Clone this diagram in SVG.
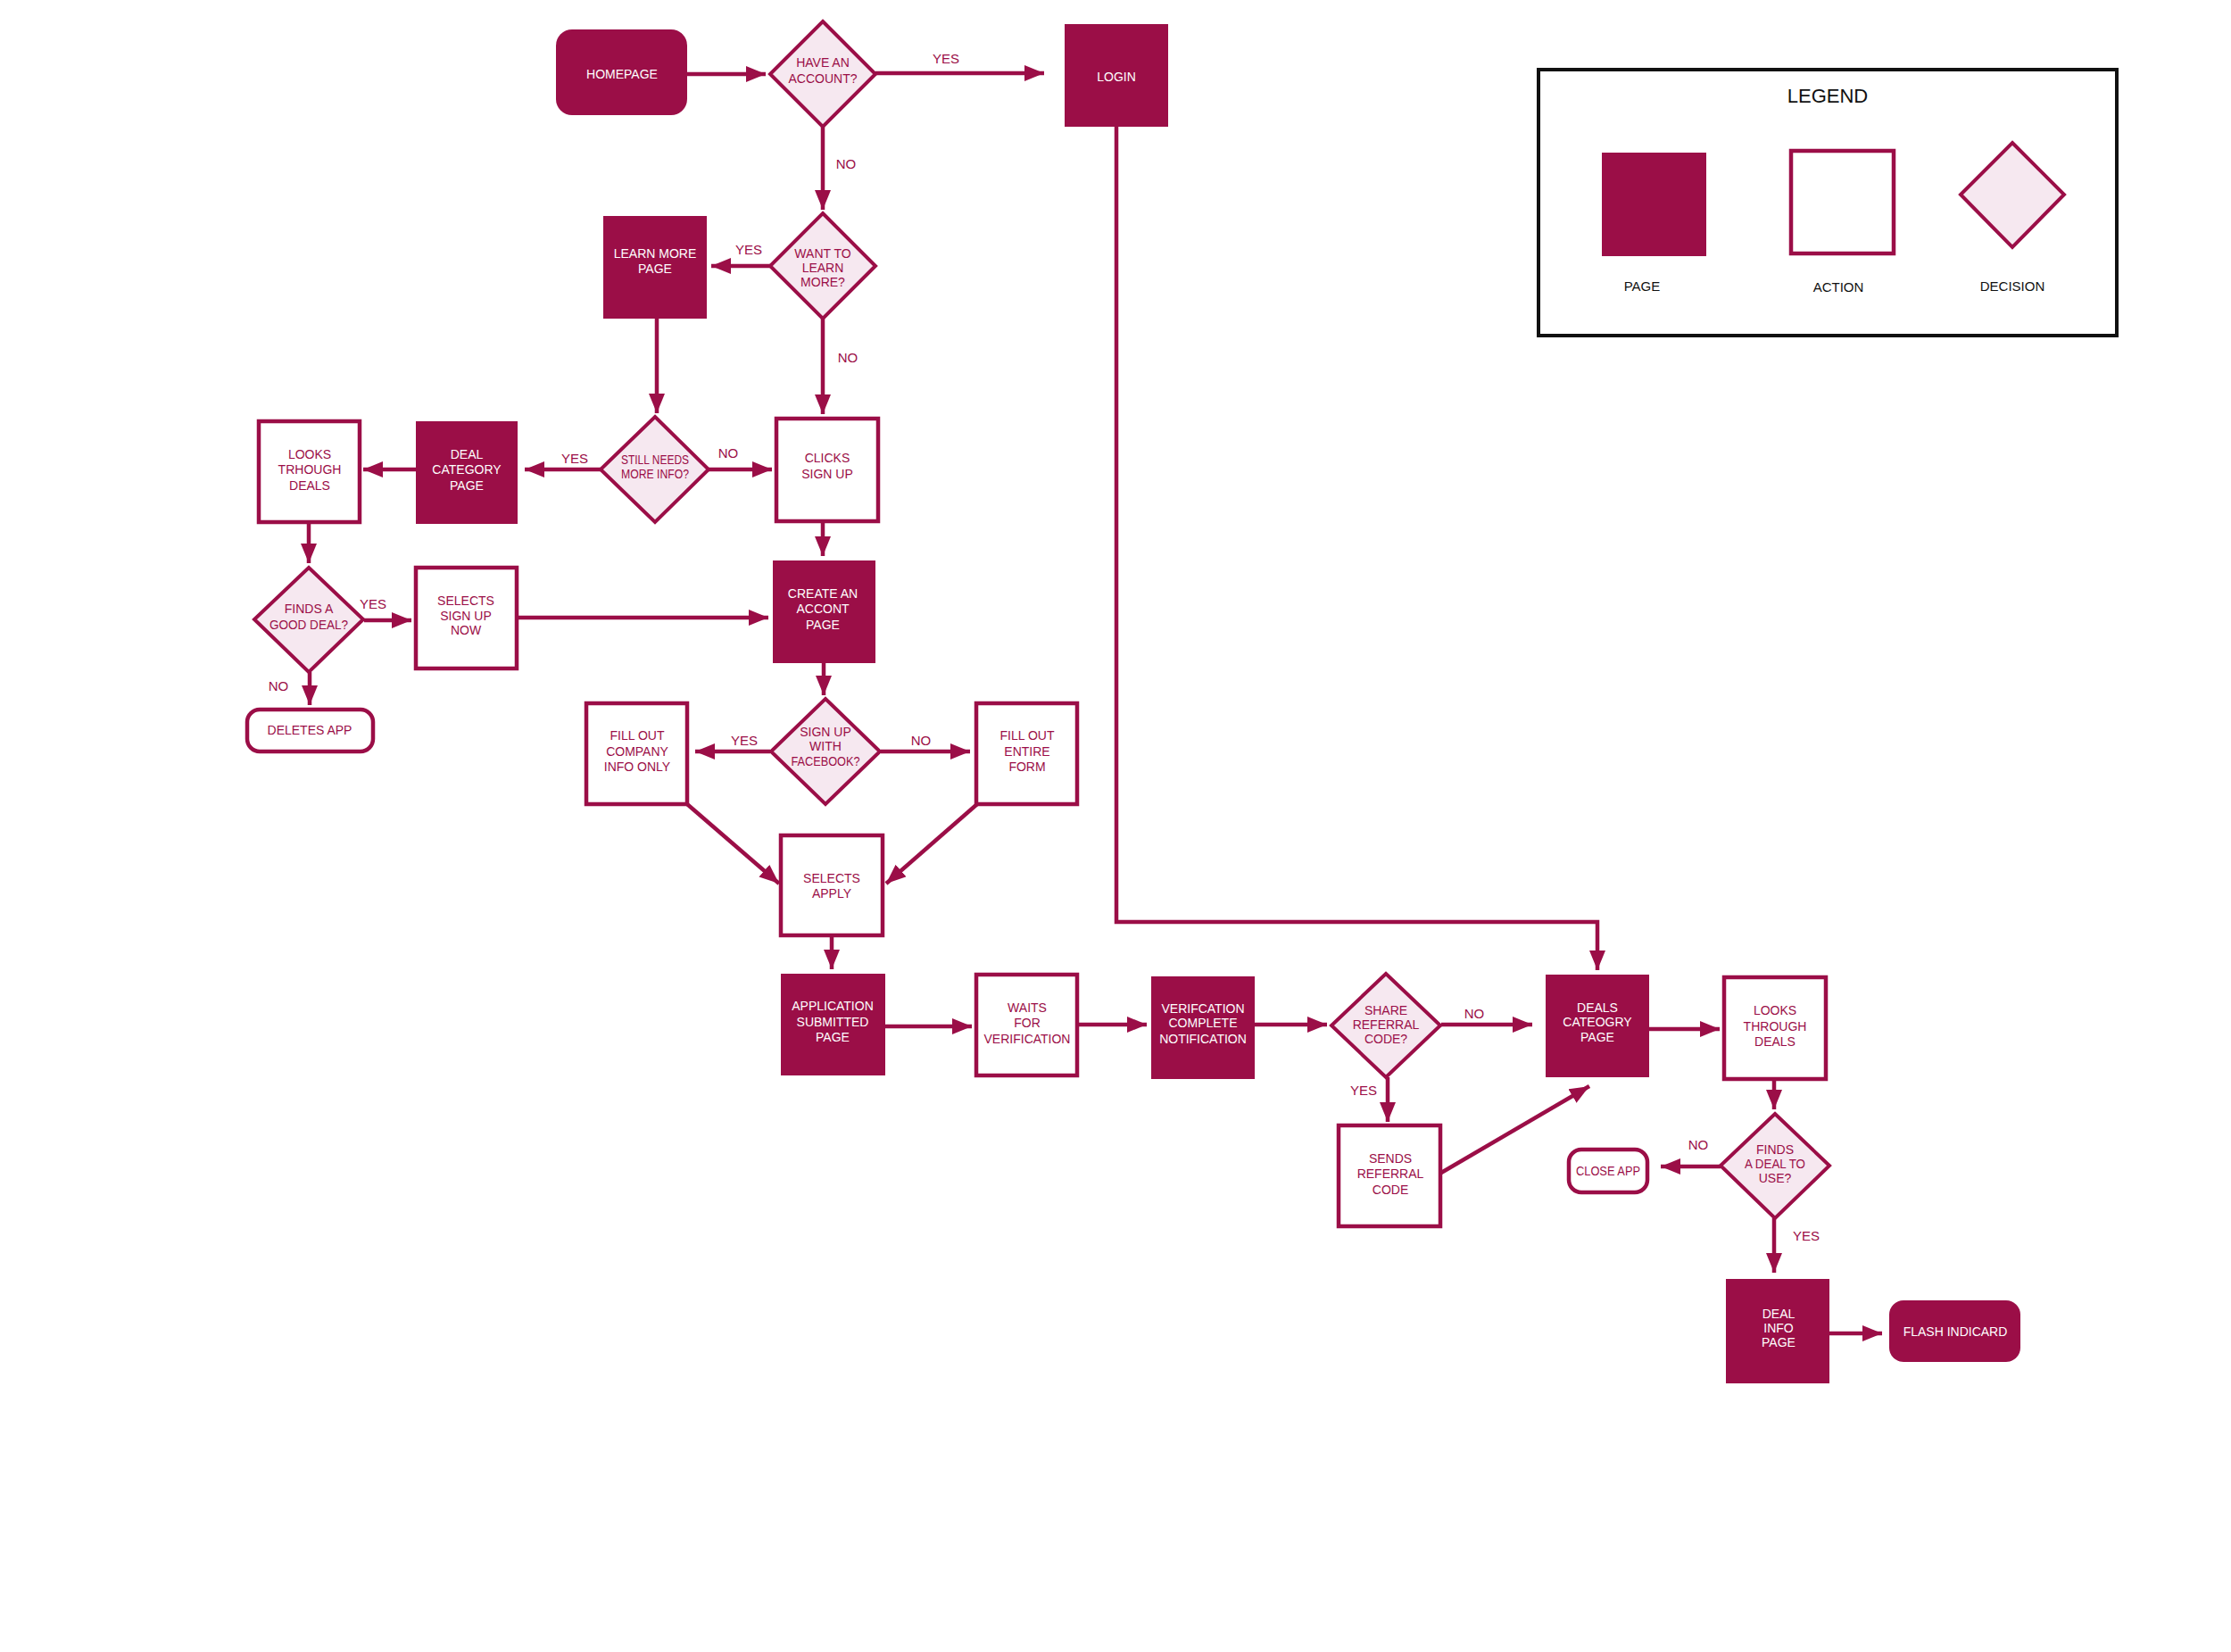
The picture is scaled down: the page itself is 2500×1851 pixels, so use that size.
<svg xmlns="http://www.w3.org/2000/svg" width="2500" height="1851" viewBox="0 0 2500 1851">
<defs>
<style>
.page{fill:#9B0E47}
.action{fill:#fff;stroke:#9B0E47;stroke-width:4.5}
.decision{fill:#F6E8F0;stroke:#9B0E47;stroke-width:4}
.conn{fill:none;stroke:#9B0E47;stroke-width:4.5;marker-end:url(#arrow)}
.line{fill:none;stroke:#9B0E47;stroke-width:4.5}
text{font-family:"Liberation Sans",Arial,sans-serif;font-size:14px;text-anchor:middle}
.wt{fill:#fff}
.mt{fill:#9B0E47}
.lbl{fill:#9B0E47;font-size:15px}
.bt{fill:#111;font-size:15px}
</style>
<marker id="arrow" markerUnits="userSpaceOnUse" markerWidth="24" markerHeight="20" refX="22" refY="9" orient="auto">
<path d="M0,0 L22,9 L0,18 z" fill="#9B0E47"/>
</marker>
</defs>
<rect width="2500" height="1851" fill="#fff"/>

<g id="connectors">
<line class="conn" x1="770" y1="83" x2="858" y2="83"/>
<line class="conn" x1="981" y1="82" x2="1170" y2="82"/>
<line class="conn" x1="922" y1="142" x2="922" y2="235"/>
<line class="conn" x1="863" y1="298" x2="797" y2="298"/>
<line class="conn" x1="922" y1="357" x2="922" y2="464"/>
<line class="conn" x1="736" y1="357" x2="736" y2="463"/>
<line class="conn" x1="794" y1="526" x2="865" y2="526"/>
<line class="conn" x1="673" y1="526" x2="588" y2="526"/>
<line class="conn" x1="466" y1="526" x2="407" y2="526"/>
<line class="conn" x1="922" y1="584" x2="922" y2="623"/>
<line class="conn" x1="346" y1="585" x2="346" y2="631"/>
<line class="conn" x1="408" y1="695" x2="461" y2="695"/>
<line class="conn" x1="347" y1="753" x2="347" y2="790"/>
<line class="conn" x1="579" y1="692" x2="861" y2="692"/>
<line class="conn" x1="923" y1="743" x2="923" y2="779"/>
<line class="conn" x1="863" y1="842" x2="779" y2="842"/>
<line class="conn" x1="987" y1="842" x2="1087" y2="842"/>
<line class="conn" x1="770" y1="901" x2="873" y2="990"/>
<line class="conn" x1="1095" y1="901" x2="993" y2="990"/>
<line class="conn" x1="932" y1="1048" x2="932" y2="1086"/>
<line class="conn" x1="992" y1="1150" x2="1089" y2="1150"/>
<line class="conn" x1="1207" y1="1148" x2="1285" y2="1148"/>
<line class="conn" x1="1406" y1="1148" x2="1487" y2="1148"/>
<line class="conn" x1="1615" y1="1148" x2="1717" y2="1148"/>
<line class="conn" x1="1555" y1="1207" x2="1555" y2="1257"/>
<line class="conn" x1="1615" y1="1314" x2="1781" y2="1217"/>
<polyline class="conn" points="1251,142 1251,1033 1790,1033 1790,1087"/>
<line class="conn" x1="1848" y1="1153" x2="1927" y2="1153"/>
<line class="conn" x1="1988" y1="1209" x2="1988" y2="1243"/>
<line class="conn" x1="1928" y1="1307" x2="1861" y2="1307"/>
<line class="conn" x1="1988" y1="1365" x2="1988" y2="1426"/>
<line class="conn" x1="2050" y1="1494" x2="2109" y2="1494"/>
<text class="lbl" x="1060" y="71">YES</text>
<text class="lbl" x="948" y="189">NO</text>
<text class="lbl" x="839" y="285">YES</text>
<text class="lbl" x="950" y="406">NO</text>
<text class="lbl" x="816" y="513">NO</text>
<text class="lbl" x="644" y="519">YES</text>
<text class="lbl" x="418" y="682">YES</text>
<text class="lbl" x="312" y="774">NO</text>
<text class="lbl" x="834" y="835">YES</text>
<text class="lbl" x="1032" y="835">NO</text>
<text class="lbl" x="1652" y="1141">NO</text>
<text class="lbl" x="1528" y="1227">YES</text>
<text class="lbl" x="1903" y="1288">NO</text>
<text class="lbl" x="2024" y="1390">YES</text>
</g>

<g id="homepage"><rect class="page" x="623" y="33" width="147" height="96" rx="18"/><text class="wt" x="697" y="88">HOMEPAGE</text></g>
<g id="have-account"><polygon class="decision" points="922,24 981,83 922,142 863,83"/><text class="mt" x="922" y="75">HAVE AN</text><text class="mt" x="922" y="93">ACCOUNT?</text></g>
<g id="login"><rect class="page" x="1193" y="27" width="116" height="115"/><text class="wt" x="1251" y="91">LOGIN</text></g>
<g id="want-learn"><polygon class="decision" points="922,239 981,298 922,357 863,298"/><text class="mt" x="922" y="289">WANT TO</text><text class="mt" x="922" y="305">LEARN</text><text class="mt" x="922" y="321">MORE?</text></g>
<g id="learn-more-page"><rect class="page" x="676" y="242" width="116" height="115"/><text class="wt" x="734" y="289">LEARN MORE</text><text class="wt" x="734" y="306">PAGE</text></g>
<g id="still-needs"><polygon class="decision" points="734,467 794,526 734,585 673,526"/><text class="mt" x="734" y="520" textLength="76" lengthAdjust="spacingAndGlyphs">STILL NEEDS</text><text class="mt" x="734" y="536" textLength="76" lengthAdjust="spacingAndGlyphs">MORE INFO?</text></g>
<g id="clicks-sign-up"><rect class="action" x="870" y="469" width="114" height="115"/><text class="mt" x="927" y="518">CLICKS</text><text class="mt" x="927" y="536">SIGN UP</text></g>
<g id="deal-category-page"><rect class="page" x="466" y="472" width="114" height="115"/><text class="wt" x="523" y="514">DEAL</text><text class="wt" x="523" y="531">CATEGORY</text><text class="wt" x="523" y="549">PAGE</text></g>
<g id="looks-trhough"><rect class="action" x="290" y="472" width="113" height="113"/><text class="mt" x="347" y="514">LOOKS</text><text class="mt" x="347" y="531">TRHOUGH</text><text class="mt" x="347" y="549">DEALS</text></g>
<g id="finds-good-deal"><polygon class="decision" points="346,636 407,694 346,753 285,694"/><text class="mt" x="346" y="687">FINDS A</text><text class="mt" x="346" y="705" textLength="88" lengthAdjust="spacingAndGlyphs">GOOD DEAL?</text></g>
<g id="selects-sign-up-now"><rect class="action" x="466" y="636" width="113" height="113"/><text class="mt" x="522" y="678">SELECTS</text><text class="mt" x="522" y="695">SIGN UP</text><text class="mt" x="522" y="711">NOW</text></g>
<g id="create-account"><rect class="page" x="866" y="628" width="115" height="115"/><text class="wt" x="922" y="670">CREATE AN</text><text class="wt" x="922" y="687">ACCONT</text><text class="wt" x="922" y="705">PAGE</text></g>
<g id="deletes-app"><rect class="action" x="277" y="795" width="141" height="47" rx="14"/><text class="mt" x="347" y="823">DELETES APP</text></g>
<g id="sign-up-facebook"><polygon class="decision" points="925,783 986,842 925,901 864,842"/><text class="mt" x="925" y="825">SIGN UP</text><text class="mt" x="925" y="841">WITH</text><text class="mt" x="925" y="858" textLength="77" lengthAdjust="spacingAndGlyphs">FACEBOOK?</text></g>
<g id="fill-company"><rect class="action" x="657" y="788" width="113" height="113"/><text class="mt" x="714" y="829">FILL OUT</text><text class="mt" x="714" y="847">COMPANY</text><text class="mt" x="714" y="864">INFO ONLY</text></g>
<g id="fill-entire"><rect class="action" x="1094" y="788" width="113" height="113"/><text class="mt" x="1151" y="829">FILL OUT</text><text class="mt" x="1151" y="847">ENTIRE</text><text class="mt" x="1151" y="864">FORM</text></g>
<g id="selects-apply"><rect class="action" x="875" y="936" width="114" height="112"/><text class="mt" x="932" y="989">SELECTS</text><text class="mt" x="932" y="1006">APPLY</text></g>
<g id="application-submitted"><rect class="page" x="875" y="1091" width="117" height="114"/><text class="wt" x="933" y="1132">APPLICATION</text><text class="wt" x="933" y="1150">SUBMITTED</text><text class="wt" x="933" y="1167">PAGE</text></g>
<g id="waits-verification"><rect class="action" x="1094" y="1092" width="113" height="113"/><text class="mt" x="1151" y="1134">WAITS</text><text class="mt" x="1151" y="1151">FOR</text><text class="mt" x="1151" y="1169">VERIFICATION</text></g>
<g id="verification-complete"><rect class="page" x="1290" y="1094" width="116" height="115"/><text class="wt" x="1348" y="1135">VERIFCATION</text><text class="wt" x="1348" y="1151">COMPLETE</text><text class="wt" x="1348" y="1169">NOTIFICATION</text></g>
<g id="share-referral"><polygon class="decision" points="1553,1091 1614,1149 1553,1207 1492,1149"/><text class="mt" x="1553" y="1137">SHARE</text><text class="mt" x="1553" y="1153">REFERRAL</text><text class="mt" x="1553" y="1169">CODE?</text></g>
<g id="deals-category-page"><rect class="page" x="1732" y="1092" width="116" height="115"/><text class="wt" x="1790" y="1134">DEALS</text><text class="wt" x="1790" y="1150">CATEOGRY</text><text class="wt" x="1790" y="1167">PAGE</text></g>
<g id="looks-through"><rect class="action" x="1932" y="1095" width="114" height="114"/><text class="mt" x="1989" y="1137">LOOKS</text><text class="mt" x="1989" y="1155">THROUGH</text><text class="mt" x="1989" y="1172">DEALS</text></g>
<g id="sends-referral"><rect class="action" x="1500" y="1261" width="114" height="113"/><text class="mt" x="1558" y="1303">SENDS</text><text class="mt" x="1558" y="1320">REFERRAL</text><text class="mt" x="1558" y="1338">CODE</text></g>
<g id="finds-deal-use"><polygon class="decision" points="1989,1248 2050,1306 1989,1365 1928,1306"/><text class="mt" x="1989" y="1293">FINDS</text><text class="mt" x="1989" y="1309" textLength="68" lengthAdjust="spacingAndGlyphs">A DEAL TO</text><text class="mt" x="1989" y="1325">USE?</text></g>
<g id="close-app"><rect class="action" x="1758" y="1288" width="88" height="48" rx="14"/><text class="mt" x="1802" y="1317" textLength="72" lengthAdjust="spacingAndGlyphs">CLOSE APP</text></g>
<g id="deal-info-page"><rect class="page" x="1934" y="1433" width="116" height="117"/><text class="wt" x="1993" y="1477">DEAL</text><text class="wt" x="1993" y="1493">INFO</text><text class="wt" x="1993" y="1509">PAGE</text></g>
<g id="flash-indicard"><rect class="page" x="2117" y="1457" width="147" height="69" rx="16"/><text class="wt" x="2191" y="1497">FLASH INDICARD</text></g>

<g id="legend">
<rect x="1724" y="78" width="648" height="298" fill="#fff" stroke="#111" stroke-width="4"/>
<text class="bt" x="2048" y="115" style="font-size:22px">LEGEND</text>
<rect class="page" x="1795" y="171" width="117" height="116"/>
<rect class="action" x="2007" y="169" width="115" height="115"/>
<polygon class="decision" points="2255,160 2313,218 2255,277 2197,218"/>
<text class="bt" x="1840" y="326">PAGE</text>
<text class="bt" x="2060" y="327">ACTION</text>
<text class="bt" x="2255" y="326">DECISION</text>
</g>
</svg>
